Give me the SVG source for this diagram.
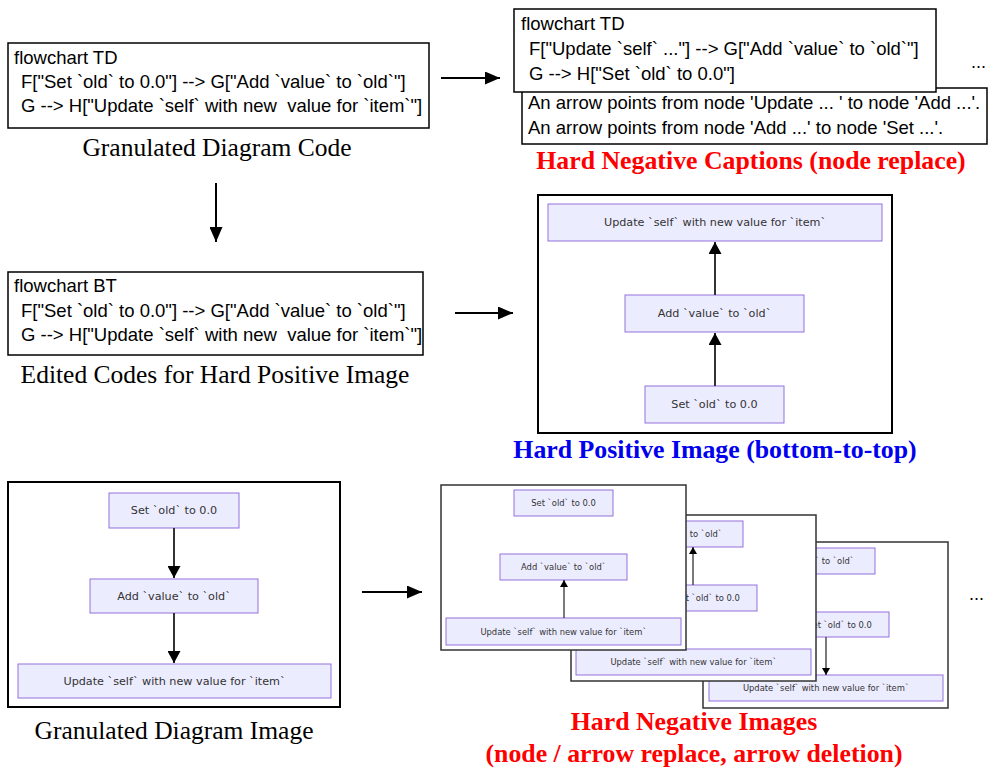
<svg xmlns="http://www.w3.org/2000/svg" width="999" height="771" viewBox="0 0 999 771">
<style>
.code{font-family:"Liberation Sans",Arial,sans-serif;font-size:18.5px;fill:#000}
.cap{font-family:"Liberation Serif","Times New Roman",serif;font-size:25.5px;fill:#000;text-anchor:middle}
.hd{font-family:"Liberation Serif","Times New Roman",serif;font-weight:bold;font-size:25.8px;text-anchor:middle}
.box{fill:#fff;stroke:#000;stroke-width:1.5}
.img{fill:#fff;stroke:#000;stroke-width:2}
.card{fill:#fff;stroke:#333;stroke-width:1.5}
.nd{fill:#ECECFF;stroke:#9370DB;stroke-width:1}
.nt{font-family:"DejaVu Sans",Verdana,sans-serif;font-size:11.2px;fill:#333;text-anchor:middle;dominant-baseline:central}
.mt{font-family:"DejaVu Sans",Verdana,sans-serif;font-size:8.4px;fill:#333;text-anchor:middle;dominant-baseline:central}
.flow{stroke:#000;stroke-width:2;fill:none}
.edge{stroke:#333;stroke-width:2;fill:none}
.medge{stroke:#333;stroke-width:1.3;fill:none}
.dots{font-family:"Liberation Sans",Arial,sans-serif;font-size:18px;fill:#000}
</style>
<defs>
<marker id="ah" markerUnits="userSpaceOnUse" markerWidth="16" markerHeight="13" refX="15" refY="6.5" orient="auto"><path d="M0,0 L15,6.5 L0,13 z" fill="#000"/></marker>
<marker id="mh" markerUnits="userSpaceOnUse" markerWidth="13" markerHeight="13" refX="12" refY="6.5" orient="auto"><path d="M0,0 L12,6.5 L0,13 z" fill="#000"/></marker>
<marker id="sh" markerUnits="userSpaceOnUse" markerWidth="8" markerHeight="8" refX="7" refY="4" orient="auto"><path d="M0,0 L7,4 L0,8 z" fill="#000"/></marker>
</defs>

<g id="connectors">
<line class="flow" x1="441" y1="78" x2="500" y2="78" marker-end="url(#ah)"/>
<line class="flow" x1="216" y1="183" x2="216" y2="242" marker-end="url(#ah)"/>
<line class="flow" x1="455" y1="313" x2="513" y2="313" marker-end="url(#ah)"/>
<line class="flow" x1="362" y1="592" x2="422" y2="592" marker-end="url(#ah)"/>
</g>

<g id="code-original">
<rect class="box" x="8" y="43" width="421" height="85"/>
<text class="code" x="14" y="64">flowchart TD</text>
<text class="code" x="21" y="88" xml:space="preserve">F["Set `old` to 0.0"] --&gt; G["Add `value` to `old`"]</text>
<text class="code" x="21" y="112" xml:space="preserve">G --&gt; H["Update `self` with new  value for `item`"]</text>
<text class="cap" x="217" y="156">Granulated Diagram Code</text>
</g>

<g id="neg-captions">
<rect class="box" x="522" y="88" width="465" height="56"/>
<text class="code" x="528" y="109">An arrow points from node 'Update ... ' to node 'Add ...'.</text>
<text class="code" x="528" y="134">An arrow points from node 'Add ...' to node 'Set ...'.</text>
<rect class="box" x="514" y="9" width="422" height="83"/>
<text class="code" x="521" y="30">flowchart TD</text>
<text class="code" x="529" y="55">F["Update `self` ..."] --&gt; G["Add `value` to `old`"]</text>
<text class="code" x="529" y="80">G --&gt; H["Set `old` to 0.0"]</text>
<text class="dots" x="971" y="68">...</text>
<text class="hd" x="751" y="169" fill="#FF0000">Hard Negative Captions (node replace)</text>
</g>

<g id="code-edited">
<rect class="box" x="8" y="272" width="415" height="83"/>
<text class="code" x="14" y="292">flowchart BT</text>
<text class="code" x="21" y="317" xml:space="preserve">F["Set `old` to 0.0"] --&gt; G["Add `value` to `old`"]</text>
<text class="code" x="21" y="341" xml:space="preserve">G --&gt; H["Update `self` with new  value for `item`"]</text>
<text class="cap" x="215" y="383">Edited Codes for Hard Positive Image</text>
</g>

<g id="positive-image">
<rect class="img" x="538" y="195" width="354" height="238"/>
<rect class="nd" x="548" y="204" width="334" height="37"/>
<text class="nt" x="715" y="222.5">Update `self` with new value for `item`</text>
<rect class="nd" x="625" y="295" width="179" height="37"/>
<text class="nt" x="714.5" y="313.5">Add `value` to `old`</text>
<rect class="nd" x="645" y="386" width="139" height="37"/>
<text class="nt" x="714.5" y="404.5">Set `old` to 0.0</text>
<line class="edge" x1="715" y1="295" x2="715" y2="242" marker-end="url(#mh)"/>
<line class="edge" x1="715" y1="386" x2="715" y2="333" marker-end="url(#mh)"/>
<text class="hd" x="715" y="458" fill="#0000EE">Hard Positive Image (bottom-to-top)</text>
</g>

<g id="original-image">
<rect class="img" x="8" y="482" width="332" height="225"/>
<rect class="nd" x="109" y="493" width="130" height="35"/>
<text class="nt" x="174" y="510.5">Set `old` to 0.0</text>
<rect class="nd" x="90" y="579" width="168" height="34"/>
<text class="nt" x="174" y="596">Add `value` to `old`</text>
<rect class="nd" x="18" y="664" width="313" height="34"/>
<text class="nt" x="174.5" y="681">Update `self` with new value for `item`</text>
<line class="edge" x1="174" y1="528" x2="174" y2="578" marker-end="url(#mh)"/>
<line class="edge" x1="174" y1="613" x2="174" y2="663" marker-end="url(#mh)"/>
<text class="cap" x="174" y="739">Granulated Diagram Image</text>
</g>

<g id="negative-images">
<g id="neg-card-3">
<rect class="card" x="703" y="542" width="245" height="166"/>
<rect class="nd" x="748" y="548" width="127" height="26"/>
<text class="mt" x="811.5" y="561">Add `value` to `old`</text>
<rect class="nd" x="790" y="612" width="99" height="25"/>
<text class="mt" x="839.5" y="624.5">Set `old` to 0.0</text>
<rect class="nd" x="709" y="675" width="234" height="26"/>
<text class="mt" x="826" y="688">Update `self` with new value for `item`</text>
<line class="medge" x1="826" y1="637" x2="826" y2="675" marker-end="url(#sh)"/>
</g>
<g id="neg-card-2">
<rect class="card" x="571" y="515" width="245" height="166"/>
<rect class="nd" x="616" y="521" width="127" height="26"/>
<text class="mt" x="679.5" y="534">Add `value` to `old`</text>
<rect class="nd" x="658" y="585" width="99" height="26"/>
<text class="mt" x="707.5" y="598">Set `old` to 0.0</text>
<rect class="nd" x="576" y="649" width="235" height="26"/>
<text class="mt" x="693.5" y="662">Update `self` with new value for `item`</text>
<line class="medge" x1="693" y1="585" x2="693" y2="547" marker-end="url(#sh)"/>
</g>
<g id="neg-card-1">
<rect class="card" x="441" y="485" width="245" height="165"/>
<rect class="nd" x="514" y="490" width="99" height="26"/>
<text class="mt" x="563.5" y="503">Set `old` to 0.0</text>
<rect class="nd" x="500" y="554" width="127" height="26"/>
<text class="mt" x="563.5" y="567">Add `value` to `old`</text>
<rect class="nd" x="446" y="618" width="235" height="27"/>
<text class="mt" x="563.5" y="631.5">Update `self` with new value for `item`</text>
<line class="medge" x1="564" y1="618" x2="564" y2="580" marker-end="url(#sh)"/>
</g>
<text class="dots" x="969" y="600">...</text>
<text class="hd" x="694" y="730" fill="#FF0000">Hard Negative Images</text>
<text class="hd" x="694" y="762" fill="#FF0000">(node / arrow replace, arrow deletion)</text>
</g>
</svg>
